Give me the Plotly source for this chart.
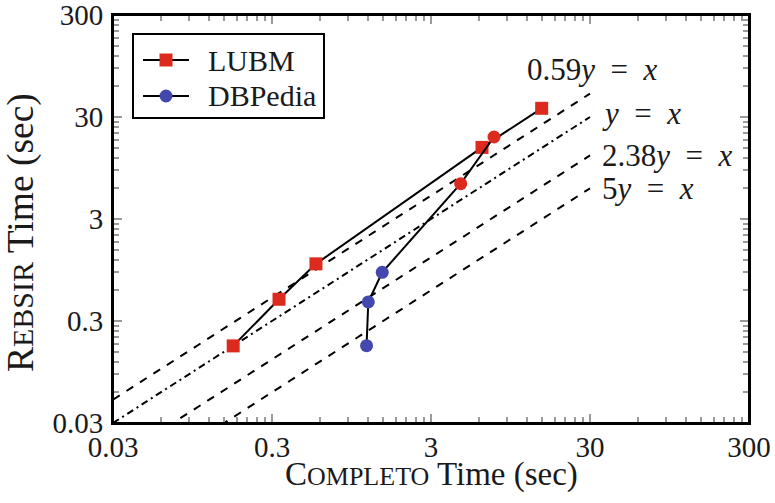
import math
import plotly.graph_objects as go

# ---- data -------------------------------------------------------------
LUBM_COMPLETO = [0.171, 0.332, 0.567, 6.28, 14.9]
LUBM_REBSIR = [0.171, 0.49, 1.09, 15.1, 36.5]

DBPEDIA_COMPLETO = [1.18, 1.21, 1.48, 4.61, 7.47]
DBPEDIA_REBSIR = [0.172, 0.461, 0.90, 6.66, 19.1]

# reference lines  r*y = x
RATIOS = [0.59, 1.0, 2.38, 5.0]
RATIO_PREFIX = ["0.59", "", "2.38", "5"]
REF_X = [0.03, 30.0]

TICK_VALS = [0.03, 0.3, 3, 30, 300]
TICK_TEXT = ["0.03", "0.3", "3", "30", "300"]
MINOR_VALS = [0.03 * k * 10 ** n for n in range(4) for k in range(2, 10)]

SERIES_NAMES = ["LUBM", "DBPedia"]

# ---- styles -----------------------------------------------------------
RED = "#dc2b1e"
BLUE = "#4248ae"
DBPEDIA_COLORS = [BLUE, BLUE, BLUE, RED, RED]
FONT = "Liberation Serif, Times New Roman, serif"
TEXT = "#1a1a1a"
TICK_GREY = "#9a9a9a"
REF_DASH = ["8px,8px", "7px,4px,2px,4px", "8px,8px", "8px,8px"]
MARKER_SIZE = 13

# plot-area edges in pixels
W, H = 775, 503
L, R, T, B = 113, 749, 15, 423


def px(x):
    return (x - L) / (R - L)


def py(y):
    return (B - y) / (B - T)


fig = go.Figure()

for ratio, dash in zip(RATIOS, REF_DASH):
    fig.add_trace(go.Scatter(
        x=REF_X, y=[v / ratio for v in REF_X], mode="lines",
        line=dict(color="black", width=2, dash=dash),
        showlegend=False, hoverinfo="skip"))

fig.add_trace(go.Scatter(
    x=LUBM_COMPLETO, y=LUBM_REBSIR, mode="lines+markers", name=SERIES_NAMES[0],
    line=dict(color="black", width=2), showlegend=False,
    marker=dict(symbol="square", size=MARKER_SIZE, color=RED)))

fig.add_trace(go.Scatter(
    x=DBPEDIA_COMPLETO, y=DBPEDIA_REBSIR, mode="lines+markers", name=SERIES_NAMES[1],
    line=dict(color="black", width=2), showlegend=False,
    marker=dict(symbol="circle", size=MARKER_SIZE, color=DBPEDIA_COLORS)))

# labels beside the reference lines
label_pos = [(525, 70), (600, 113), (600, 155), (600, 188)]
eq = "\u2002=\u2002"
for prefix, (lx, ly) in zip(RATIO_PREFIX, label_pos):
    fig.add_annotation(
        x=px(lx), y=py(ly), xref="paper", yref="paper",
        text=f"{prefix}<i>y</i>{eq}<i>x</i>", showarrow=False,
        xanchor="left", yanchor="middle",
        font=dict(family=FONT, size=31, color=TEXT))

# plot frame
fig.add_shape(type="rect", xref="paper", yref="paper", x0=0, x1=1, y0=0, y1=1,
              line=dict(color="black", width=2), layer="above")

# legend box with line + marker keys
fig.add_shape(type="rect", xref="paper", yref="paper",
              x0=px(133), x1=px(324), y0=py(118), y1=py(34),
              line=dict(color="black", width=2), fillcolor="white", layer="above")
half = MARKER_SIZE / 2
for i, (name, kind, color) in enumerate(zip(SERIES_NAMES, ["rect", "circle"], [RED, BLUE])):
    row = 60 + 36 * i
    fig.add_shape(type="line", xref="paper", yref="paper",
                  x0=px(143), x1=px(189), y0=py(row), y1=py(row),
                  line=dict(color="black", width=2), layer="above")
    fig.add_shape(type=kind, xref="paper", yref="paper",
                  x0=px(166 - half), x1=px(166 + half),
                  y0=py(row + half), y1=py(row - half),
                  line=dict(width=0), fillcolor=color, layer="above")
    fig.add_annotation(x=px(206), y=py(row), xref="paper", yref="paper",
                       text=name, showarrow=False, xanchor="left", yanchor="middle",
                       font=dict(family=FONT, size=30, color=TEXT))

# axis titles
fig.add_annotation(x=0.5, y=py(474), xref="paper", yref="paper",
                   text='C<span style="font-size:26px">OMPLETO</span> Time (sec)',
                   showarrow=False, xanchor="center", yanchor="middle",
                   font=dict(family=FONT, size=33, color=TEXT))
fig.add_annotation(x=px(21), y=py(233), xref="paper", yref="paper",
                   text='R<span style="font-size:30px">EBSIR</span> Time (sec)',
                   showarrow=False, xanchor="center", yanchor="middle", textangle=-90,
                   font=dict(family=FONT, size=37.5, color=TEXT))

axis_common = dict(
    type="log", automargin=False,
    range=[math.log10(0.03), math.log10(300)],
    tickmode="array", tickvals=TICK_VALS, ticktext=TICK_TEXT,
    ticks="inside", ticklen=9, tickwidth=1.5, tickcolor=TICK_GREY,
    minor=dict(tickmode="array", tickvals=MINOR_VALS, ticks="inside",
               ticklen=6, tickwidth=1.5, tickcolor=TICK_GREY, showgrid=False),
    showline=True, linecolor="black", linewidth=2, mirror="allticks",
    showgrid=False, zeroline=False, ticklabeloverflow="allow",
    tickfont=dict(family=FONT, size=29, color=TEXT),
)

fig.update_xaxes(**axis_common, ticklabelstandoff=-3)
fig.update_yaxes(**axis_common, ticklabelstandoff=2)

fig.update_layout(
    width=W, height=H,
    margin=dict(l=L, r=W - R, t=T, b=H - B, pad=0),
    paper_bgcolor="white", plot_bgcolor="white",
    showlegend=False,
)

fig.write_html("out.html")
